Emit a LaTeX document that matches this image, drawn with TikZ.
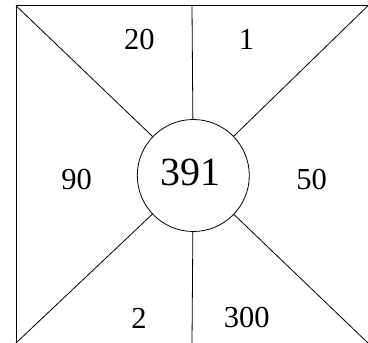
\documentclass[tikz,border=0pt]{standalone}
\usepackage{fontspec}
\newfontfamily\timesfont{Liberation Serif}
\begin{document}
\begin{tikzpicture}[x=1pt, y=-1pt, line width=0.8pt,
  num/.style={inner sep=0pt, font=\timesfont\fontsize{30.5}{30.5}\selectfont},
  hub/.style={draw, circle, minimum size=112pt, inner sep=0pt}]
 \useasboundingbox (0,0) rectangle (368,343);
 \coordinate (tl) at (16,5.7);
 \coordinate (tr) at (368,5.7);
 \coordinate (bl) at (16,343);
 \coordinate (br) at (368,343);
 \coordinate (tm) at (192,5.7);
 \coordinate (bm) at (192,343);
 \node[hub] (total) at (193.3,175.5){};
 \node[inner sep=0pt, font=\timesfont\fontsize{40}{40}\selectfont] (sum) at (190.5,172.2){391};
 \draw (tr) -- (tl) -- (bl);
 \draw (tl) -- (total);
 \draw (tr) -- (total);
 \draw (bl) -- (total);
 \draw (br) -- (total);
 \draw (tm) -- (total);
 \draw (bm) -- (total);
 \node[num] (n20) at (139.5,39.3){20};
 \node[num] (n1) at (246.5,39.3){1};
 \node[num] (n90) at (76.7,180){90};
 \node[num] (n50) at (311.7,180){50};
 \node[num] (n2) at (139,318){2};
 \node[num] (n300) at (246.7,318){300};
\end{tikzpicture}
\end{document}
